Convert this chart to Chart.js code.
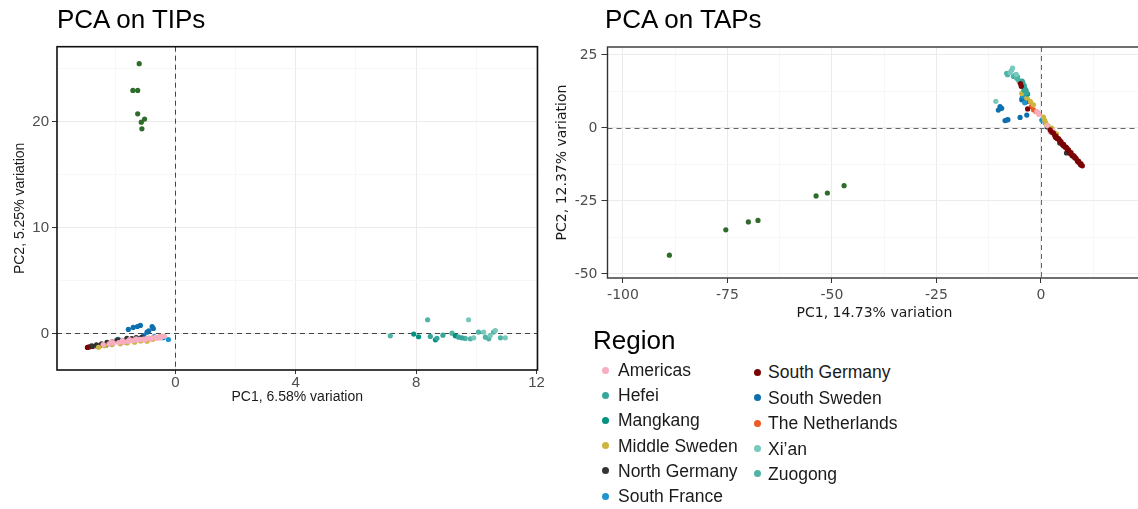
<!DOCTYPE html>
<html>
<head>
<meta charset="utf-8">
<title>PCA on TIPs / TAPs</title>
<script src="https://cdn.jsdelivr.net/npm/chart.js@4.4.1/dist/chart.umd.min.js"></script>
<style>
    html, body { margin: 0; padding: 0; background: #fff; overflow: hidden; }
    #page { position: relative; width: 1138px; height: 509px; overflow: hidden; background: #fff; }
    #page canvas { position: absolute; top: 0; }
    #tipsCanvas { left: 0; }
    #tapsCanvas { left: 540px; }
    .plot-title {
        position: absolute; top: 6px;
        font-family: 'Liberation Sans', Arial, sans-serif;
        font-size: 26px; line-height: 1; color: #000; white-space: nowrap;
    }
    .legend-title {
        position: absolute; left: 593px; top: 327px;
        font-family: 'Liberation Sans', Arial, sans-serif;
        font-size: 26px; line-height: 1; color: #000;
    }
    .legend-dot { position: absolute; width: 7px; height: 7px; border-radius: 50%; }
    .legend-text {
        position: absolute; height: 20px; line-height: 20px;
        font-family: 'Liberation Sans', Arial, sans-serif;
        font-size: 17.5px; color: #1a1a1a; white-space: nowrap;
    }
</style>
</head>
<body>
<div id="page">
    <canvas id="tipsCanvas" width="560" height="420"></canvas>
    <canvas id="tapsCanvas" width="610" height="330"></canvas>
    <div class="plot-title" style="left:57px">PCA on TIPs</div>
    <div class="plot-title" style="left:605px">PCA on TAPs</div>
    <div class="legend-title">Region</div>
    <div id="legend"></div>
</div>
<script>
// ---------- regions ----------
const regionNames = ['Americas', 'Hefei', 'Mangkang', 'Middle Sweden', 'North Germany', 'South France',
    'South Germany', 'South Sweden', 'The Netherlands', 'Xi\u2019an', 'Zuogong'];
const regionColors = ['#F8AEC0', '#36A69A', '#00917F', '#CDB63F', '#333333', '#1B96CF',
    '#7A0403', '#0E6FAE', '#EE5A24', '#76C9BC', '#4FB3A5'];
const otherColor = '#2F6B2A';

// ---------- PCA on TIPs (PC1, PC2) ----------
const tipsAmericas = [[-2.40, -1.05], [-2.20, -0.98], [-2.05, -0.90], [-1.88, -0.86], [-1.72, -0.80], [-1.58, -0.73],
    [-1.47, -0.68], [-1.36, -0.62], [-1.26, -0.63], [-1.16, -0.56], [-1.06, -0.52], [-0.96, -0.49], [-0.86, -0.44],
    [-0.76, -0.41], [-0.66, -0.36], [-0.56, -0.33], [-0.46, -0.30], [-0.36, -0.26], [-1.52, -0.57], [-1.02, -0.62],
    [-0.82, -0.55], [-0.61, -0.46], [-2.12, -0.80], [-1.76, -0.66], [-1.30, -0.50], [-0.50, -0.42]];
const tipsHefei = [[8.47, -0.28], [8.69, -0.45], [8.89, -0.16], [9.41, -0.35], [9.52, -0.41]];
const tipsMangkang = [[7.92, -0.06], [8.08, -0.31], [8.64, -0.60], [9.30, -0.22]];
const tipsMiddleSweden = [[-2.55, -1.30], [-2.35, -1.15], [-2.10, -1.06], [-1.83, -0.98], [-1.60, -0.90],
    [-1.35, -0.82], [-1.15, -0.70], [-0.94, -0.73], [-0.75, -0.55], [-0.50, -0.28]];
const tipsNorthGermany = [[-2.78, -1.17], [-2.62, -1.08], [-2.45, -0.98], [-2.27, -0.84], [-2.10, -0.79],
    [-1.94, -0.62], [-1.80, -0.66], [-1.61, -0.45], [-1.45, -0.49], [-1.30, -0.40], [-1.12, -0.36]];
const tipsSouthFrance = [[-2.60, -1.20], [-2.30, -1.10], [-1.62, -0.62], [-1.20, -0.48], [-0.70, -0.30],
    [-0.23, -0.57], [-0.40, -0.40]];
const tipsSouthGermany = [[-2.92, -1.32], [-2.86, -1.27], [-2.75, -1.22], [-2.50, -1.12], [-2.10, -0.95], [-1.70, -0.78]];
const tipsSouthSweden = [[-1.40, 0.57], [-1.16, 0.76], [-1.26, 0.66], [-0.77, 0.66], [-0.73, 0.47], [-1.56, 0.38],
    [-0.94, 0.12], [-0.88, 0.25], [-1.90, -0.55], [-1.05, -0.20]];
const tipsNetherlands = [[-1.30, -0.58], [-0.90, -0.45]];
const tipsXian = [[9.74, 1.30], [9.91, -0.41], [10.24, 0.13], [10.46, -0.19], [10.63, 0.28], [10.96, -0.41]];
const tipsZuogong = [[7.14, -0.22], [8.38, 1.30], [9.19, 0.03], [9.63, -0.47], [9.80, -0.50], [10.07, 0.13],
    [10.30, -0.35], [10.41, -0.50], [10.57, 0.13], [10.80, -0.41]];
const tipsOther = [[-1.20, 25.5], [-1.41, 22.97], [-1.25, 22.97], [-1.25, 20.76], [-1.02, 20.26], [-1.13, 19.97], [-1.11, 19.34]];

// ---------- PCA on TAPs (PC1, PC2) ----------
const tapsAmericas = [[-1.0, 5.6], [-0.5, 4.6], [1.5, 0.8], [2.2, -1.3], [2.9, -1.0]];
const tapsHefei = [[-4.5, 16.0], [-4.3, 15.3], [-4.0, 14.5], [-3.9, 12.6], [-3.7, 13.2], [-3.4, 12.0]];
const tapsMangkang = [[-4.4, 14.9], [-4.1, 13.8], [-3.6, 12.8], [-3.2, 11.6]];
const tapsMiddleSweden = [[-4.6, 11.8], [-3.4, 10.2], [-2.5, 9.0], [-1.8, 7.9], [-0.6, 5.0], [0.6, 3.7], [0.9, 2.6],
    [1.2, 1.5], [1.7, 0.7], [2.6, -0.1], [3.7, -2.0]];
const tapsNorthGermany = [[1.5, 0.3], [3.1, -1.8], [4.5, -5.2], [5.3, -6.0], [6.1, -8.6], [7.5, -9.6]];
const tapsSouthFrance = [[-4.3, 10.8], [-3.9, 8.6], [0.2, 2.7], [1.0, 1.8]];
const tapsSouthGermany = [[2.2, -0.7], [2.6, -1.5], [3.0, -1.8], [3.3, -2.7], [3.6, -2.8], [3.9, -3.7], [4.2, -3.7],
    [4.5, -4.6], [4.8, -4.7], [5.1, -5.6], [5.4, -5.6], [5.7, -6.5], [6.0, -6.6], [6.3, -7.5], [6.6, -7.5],
    [6.9, -8.4], [7.2, -8.5], [7.5, -9.4], [7.8, -9.5], [8.1, -10.3], [8.4, -10.4], [8.7, -11.3], [9.0, -11.4],
    [9.3, -12.2], [9.6, -12.3], [9.9, -13.0], [3.5, -3.3], [4.4, -4.1], [5.3, -5.9], [6.2, -6.9], [7.1, -8.9],
    [8.0, -9.8], [8.9, -11.7], [9.5, -12.7], [-4.7, 14.3], [-4.9, 15.2], [-3.2, 6.5]];
const tapsSouthSweden = [[-10.2, 6.1], [-9.8, 7.3], [-9.4, 6.7], [-8.6, 2.5], [-8.2, 2.7], [-7.9, 2.8], [-5.0, 3.6],
    [-3.4, 4.4], [-4.6, 9.6], [-4.5, 10.2], [-4.2, 12.3], [-3.6, 8.9]];
const tapsNetherlands = [[-3.8, 9.6], [-3.3, 9.9], [-2.8, 9.0], [-2.3, 7.3], [-1.8, 6.2], [-1.2, 5.6]];
const tapsXian = [[-10.8, 9.1], [-7.4, 19.0], [-7.0, 19.8], [-6.8, 20.5], [-5.9, 18.3]];
const tapsZuogong = [[-8.2, 18.7], [-8.0, 18.2], [-6.6, 17.6], [-6.2, 18.1], [-5.8, 17.0], [-5.6, 17.5], [-5.4, 16.4],
    [-5.2, 16.0], [-5.0, 15.3], [-4.8, 15.6], [-4.6, 14.1]];
const tapsOther = [[-88.9, -43.6], [-75.4, -34.9], [-70.0, -32.2], [-67.7, -31.7], [-53.8, -23.3], [-51.1, -22.3], [-47.1, -19.8]];

// ---------- axes ----------
const tipsXRange = [-3.93, 12.03];
const tipsYRange = [-3.45, 27.1];
const tipsXMajor = [0, 4, 8, 12];
const tipsXMinor = [-2, 2, 6, 10];
const tipsYMajor = [0, 10, 20];
const tipsYMinor = [5, 15, 25];

const tapsXRange = [-103.7, 24];
const tapsYRange = [-51.4, 27.7];
const tapsXMajor = [-100, -75, -50, -25, 0];
const tapsXMinor = [-87.5, -62.5, -37.5, -12.5, 12.5];
const tapsYMajor = [-50, -25, 0, 25];
const tapsYMinor = [-37.5, -12.5, 12.5];

const SANS = "'Liberation Sans', Arial, sans-serif";
const DEJAVU = "'DejaVu Sans', sans-serif";

/**
 * Panel box plus dashed reference lines at x = 0 and y = 0
 */
const panelPlugin = {
    id: 'panelFrame',
    beforeDatasetsDraw(chart, args, opts) {
        const { ctx, chartArea: a, scales } = chart;
        const x0 = Math.round(scales.x.getPixelForValue(0)) + 0.5;
        const y0 = Math.round(scales.y.getPixelForValue(0)) + 0.5;
        ctx.save();
        ctx.strokeStyle = opts.dashColor;
        ctx.lineWidth = 1;
        ctx.setLineDash([5, 4]);
        ctx.beginPath();
        ctx.moveTo(x0, a.top); ctx.lineTo(x0, a.bottom);
        ctx.moveTo(a.left, y0); ctx.lineTo(a.right, y0);
        ctx.stroke();
        ctx.restore();
    },
    afterDatasetsDraw(chart, args, opts) {
        const { ctx, chartArea: a } = chart;
        ctx.save();
        ctx.strokeStyle = opts.borderColor;
        ctx.lineWidth = opts.borderWidth;
        ctx.strokeRect(a.left, a.top, a.right - a.left, a.bottom - a.top);
        ctx.restore();
    }
};

/**
 * Linear axis with ggplot-like major/minor grid
 */
function buildAxis(range, major, minor, cfg) {
    const all = major.concat(minor).sort((a, b) => a - b);
    const isMajor = v => major.includes(v);
    return {
        type: 'linear',
        min: range[0],
        max: range[1],
        afterBuildTicks: axis => { axis.ticks = all.map(v => ({ value: v })); },
        afterFit: axis => {
            if (axis.isHorizontal()) axis.height = cfg.size;
            else axis.width = cfg.size;
        },
        border: { display: false },
        grid: {
            color: c => (c.tick && isMajor(c.tick.value)) ? '#EBEBEB' : '#F4F4F4',
            lineWidth: c => (c.tick && isMajor(c.tick.value)) ? 1 : 0.7,
            tickColor: c => (c.tick && isMajor(c.tick.value)) ? '#333333' : 'rgba(0,0,0,0)',
            tickLength: cfg.tickLength,
            tickWidth: 1
        },
        ticks: {
            autoSkip: false,
            maxRotation: 0,
            padding: cfg.tickPadding,
            color: '#4D4D4D',
            font: { family: cfg.family, size: cfg.tickSize, lineHeight: 1 },
            callback: v => isMajor(v) ? String(v) : ''
        },
        title: {
            display: true,
            text: cfg.title,
            color: '#1A1A1A',
            font: { family: cfg.family, size: 14 },
            padding: cfg.titlePadding
        }
    };
}

function buildDatasets(pointSets, other, topRegion) {
    const toXY = pts => pts.map(p => ({ x: p[0], y: p[1] }));
    const sets = pointSets.map((pts, i) => ({
        label: regionNames[i],
        data: toXY(pts),
        backgroundColor: regionColors[i],
        order: regionNames[i] === topRegion ? 0 : 1 + i
    }));
    sets.push({ label: 'Other', data: toXY(other), backgroundColor: otherColor, order: 20 });
    return sets;
}

function scatterOptions(scales, padding, frame) {
    return {
        responsive: false,
        animation: false,
        devicePixelRatio: 1,
        layout: { padding },
        elements: { point: { radius: 2.6, borderWidth: 0, hoverRadius: 2.6 } },
        plugins: {
            legend: { display: false },
            tooltip: { enabled: false },
            panelFrame: frame
        },
        scales
    };
}

function initTipsChart() {
    const ctx = document.getElementById('tipsCanvas');
    const points = [tipsAmericas, tipsHefei, tipsMangkang, tipsMiddleSweden, tipsNorthGermany, tipsSouthFrance,
        tipsSouthGermany, tipsSouthSweden, tipsNetherlands, tipsXian, tipsZuogong];
    new Chart(ctx, {
        type: 'scatter',
        data: { datasets: buildDatasets(points, tipsOther, 'Americas') },
        options: scatterOptions({
            x: buildAxis(tipsXRange, tipsXMajor, tipsXMinor, {
                size: 44, tickLength: 4, tickPadding: 1, tickSize: 15, family: SANS,
                title: 'PC1, 6.58% variation', titlePadding: { top: 0, bottom: 8.6 }
            }),
            y: buildAxis(tipsYRange, tipsYMajor, tipsYMinor, {
                size: 57, tickLength: 5, tickPadding: 3, tickSize: 15, family: SANS,
                title: 'PC2, 5.25% variation', titlePadding: { top: 11.6, bottom: 0 }
            })
        }, { left: 0, right: 22.5, top: 46.7, bottom: 6 },
        { dashColor: '#444444', borderColor: '#111111', borderWidth: 1.6 }),
        plugins: [panelPlugin]
    });
}

function initTapsChart() {
    const ctx = document.getElementById('tapsCanvas');
    const points = [tapsAmericas, tapsHefei, tapsMangkang, tapsMiddleSweden, tapsNorthGermany, tapsSouthFrance,
        tapsSouthGermany, tapsSouthSweden, tapsNetherlands, tapsXian, tapsZuogong];
    new Chart(ctx, {
        type: 'scatter',
        data: { datasets: buildDatasets(points, tapsOther, 'South Germany') },
        options: scatterOptions({
            x: buildAxis(tapsXRange, tapsXMajor, tapsXMinor, {
                size: 48, tickLength: 5, tickPadding: 5, tickSize: 14, family: DEJAVU,
                title: 'PC1, 14.73% variation', titlePadding: { top: 0, bottom: 4.3 }
            }),
            y: buildAxis(tapsYRange, tapsYMajor, tapsYMinor, {
                size: 67.5, tickLength: 6, tickPadding: 4, tickSize: 14, family: DEJAVU,
                title: 'PC2, 12.37% variation', titlePadding: { top: 13.6, bottom: 0 }
            })
        }, { left: 0, right: 8.7, top: 47, bottom: 4 },
        { dashColor: '#666666', borderColor: '#333333', borderWidth: 1.4 }),
        plugins: [panelPlugin]
    });
}

/**
 * Two-column region legend
 */
function initLegend() {
    const box = document.getElementById('legend');
    regionNames.forEach((name, i) => {
        const col = i < 6 ? 0 : 1;
        const row = col === 0 ? i : i - 6;
        const cy = col === 0 ? 370 + row * 25.2 : 372.3 + row * 25.4;
        const dotX = col === 0 ? 605 : 757.5;
        const textX = col === 0 ? 618 : 768;

        const dot = document.createElement('div');
        dot.className = 'legend-dot';
        dot.style.left = (dotX - 3.5) + 'px';
        dot.style.top = (cy - 3.5) + 'px';
        dot.style.background = regionColors[i];
        box.appendChild(dot);

        const label = document.createElement('div');
        label.className = 'legend-text';
        label.style.left = textX + 'px';
        label.style.top = (cy - 10) + 'px';
        label.textContent = name;
        box.appendChild(label);
    });
}

document.addEventListener('DOMContentLoaded', function () {
    try {
        initTipsChart();
        initTapsChart();
        initLegend();
    } catch (error) {
        console.error('Error drawing PCA charts:', error);
    }
});
</script>
</body>
</html>
